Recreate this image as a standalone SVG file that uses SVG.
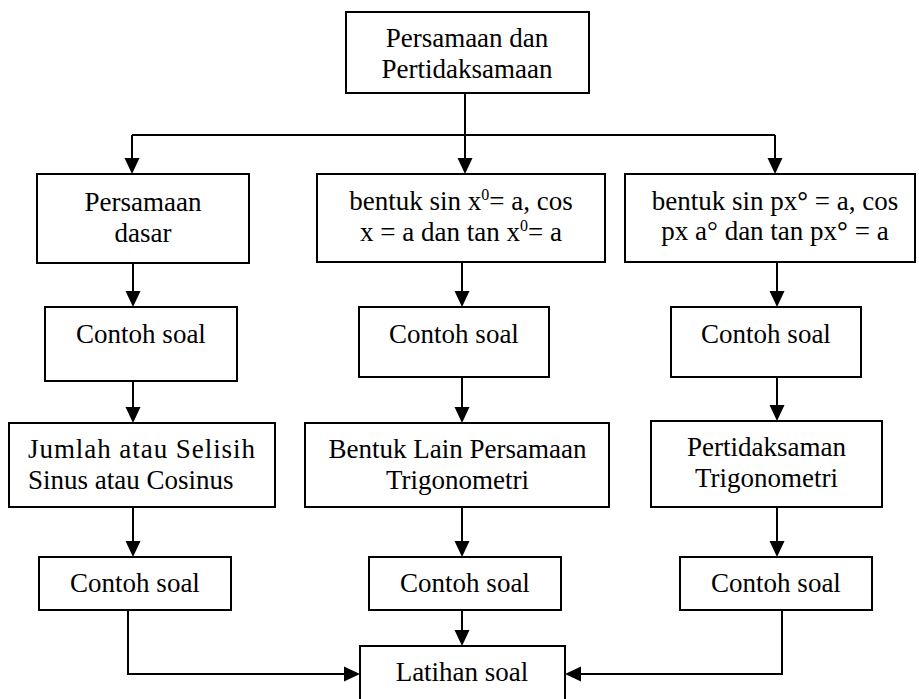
<svg xmlns="http://www.w3.org/2000/svg" width="919" height="699" viewBox="0 0 919 699">
  <style>
    .box { fill: #ffffff; stroke: #000000; stroke-width: 2; }
    .lbl { font-family: "Liberation Serif", "Times New Roman", serif; font-size: 27px; fill: #000000; }
    .mid { text-anchor: middle; }
    .sup { font-size: 16px; }
    .deg { font-weight: bold; }
    .wire { fill: none; stroke: #000000; stroke-width: 2; }
    .arr { marker-end: url(#head); }
  </style>
  <defs>
    <marker id="head" viewBox="0 0 16 16" refX="12" refY="8" markerWidth="16" markerHeight="16" orient="auto" markerUnits="userSpaceOnUse">
      <path d="M0,0.5 L16,8 L0,15.5 z" fill="#000000"/>
    </marker>
  </defs>

  <rect width="919" height="699" fill="#ffffff"/>

  <g id="connectors">
    <!-- root fan-out -->
    <path class="wire" d="M465 93 V135"/>
    <path class="wire" d="M132 135 H775"/>
    <path class="wire arr" d="M132 135 V170"/>
    <path class="wire arr" d="M465 135 V170"/>
    <path class="wire arr" d="M775 135 V170"/>
    <!-- left column -->
    <path class="wire arr" d="M133 263 V303"/>
    <path class="wire arr" d="M133 381 V419"/>
    <path class="wire arr" d="M133 507 V553"/>
    <path class="wire arr" d="M128 610 V674 H356"/>
    <!-- middle column -->
    <path class="wire arr" d="M462 262 V303"/>
    <path class="wire arr" d="M462 377 V419"/>
    <path class="wire arr" d="M462 507 V553"/>
    <path class="wire arr" d="M462 610 V642"/>
    <!-- right column -->
    <path class="wire arr" d="M777 262 V303"/>
    <path class="wire arr" d="M777 377 V417"/>
    <path class="wire arr" d="M777 507 V553"/>
    <path class="wire arr" d="M782 610 V674 H569"/>
  </g>

  <g id="root">
    <rect class="box" x="346" y="12" width="243" height="81"/>
    <text class="lbl mid" x="467" y="47">Persamaan dan</text>
    <text class="lbl mid" x="467" y="78">Pertidaksamaan</text>
  </g>

  <g id="persamaan-dasar">
    <rect class="box" x="37" y="174" width="212" height="89"/>
    <text class="lbl mid" x="143" y="211">Persamaan</text>
    <text class="lbl mid" x="143" y="242">dasar</text>
  </g>

  <g id="bentuk-sin-x">
    <rect class="box" x="317" y="174" width="288" height="88"/>
    <text class="lbl mid" x="461" y="210">bentuk sin x<tspan class="sup" dy="-10">0</tspan><tspan dy="10">= a, cos</tspan></text>
    <text class="lbl mid" x="461" y="241">x = a dan tan x<tspan class="sup" dy="-10">0</tspan><tspan dy="10">= a</tspan></text>
  </g>

  <g id="bentuk-sin-px">
    <rect class="box" x="625" y="174" width="290" height="88"/>
    <text class="lbl mid" x="775" y="210">bentuk sin px<tspan class="deg">°</tspan> = a, cos</text>
    <text class="lbl mid" x="775" y="240">px a° dan tan px<tspan class="deg">°</tspan> = a</text>
  </g>

  <g id="contoh-soal-1a">
    <rect class="box" x="45" y="307" width="192" height="74"/>
    <text class="lbl mid" x="141" y="343">Contoh soal</text>
  </g>

  <g id="contoh-soal-2a">
    <rect class="box" x="359" y="307" width="190" height="70"/>
    <text class="lbl mid" x="454" y="343">Contoh soal</text>
  </g>

  <g id="contoh-soal-3a">
    <rect class="box" x="671" y="307" width="190" height="70"/>
    <text class="lbl mid" x="766" y="343">Contoh soal</text>
  </g>

  <g id="jumlah-selisih">
    <rect class="box" x="9" y="423" width="266" height="84"/>
    <text class="lbl" x="28" y="458" textLength="227" lengthAdjust="spacing">Jumlah atau Selisih</text>
    <text class="lbl" x="28" y="489">Sinus atau Cosinus</text>
  </g>

  <g id="bentuk-lain">
    <rect class="box" x="305" y="423" width="304" height="84"/>
    <text class="lbl mid" x="457.5" y="458">Bentuk Lain Persamaan</text>
    <text class="lbl mid" x="457.5" y="489">Trigonometri</text>
  </g>

  <g id="pertidaksamaan">
    <rect class="box" x="651" y="421" width="231" height="86"/>
    <text class="lbl mid" x="766.5" y="456">Pertidaksaman</text>
    <text class="lbl mid" x="766.5" y="487">Trigonometri</text>
  </g>

  <g id="contoh-soal-1b">
    <rect class="box" x="39" y="557" width="192" height="53"/>
    <text class="lbl mid" x="135" y="592">Contoh soal</text>
  </g>

  <g id="contoh-soal-2b">
    <rect class="box" x="369" y="557" width="192" height="53"/>
    <text class="lbl mid" x="465" y="592">Contoh soal</text>
  </g>

  <g id="contoh-soal-3b">
    <rect class="box" x="680" y="557" width="192" height="53"/>
    <text class="lbl mid" x="776" y="592">Contoh soal</text>
  </g>

  <g id="latihan-soal">
    <rect class="box" x="360" y="646" width="205" height="60"/>
    <text class="lbl mid" x="462" y="681">Latihan soal</text>
  </g>
</svg>
